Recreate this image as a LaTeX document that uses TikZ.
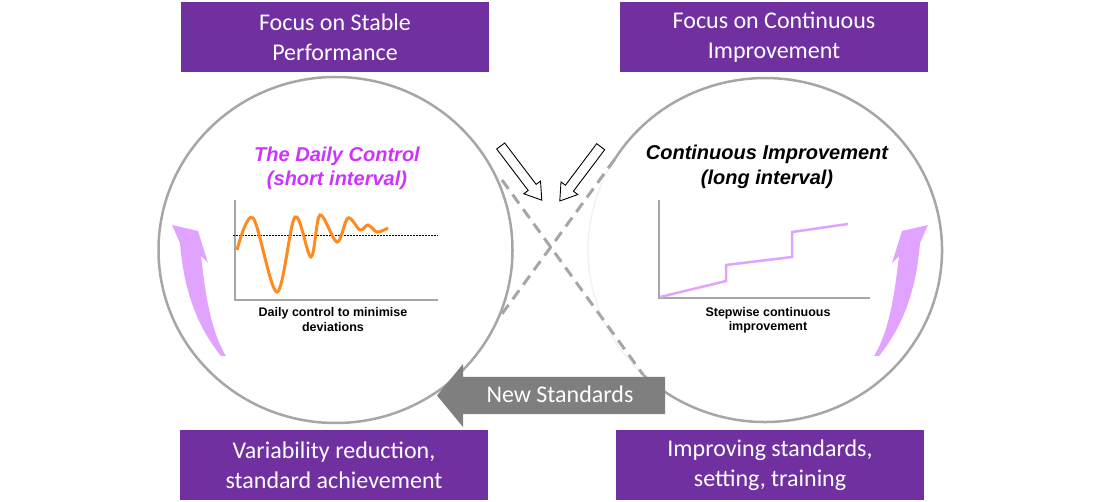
\documentclass[tikz,border=0pt]{standalone}
\usepackage{fontspec}
\setmainfont{Carlito}
\newfontfamily\arialf{Liberation Sans}
\definecolor{purp}{HTML}{7030A0}
\definecolor{circgray}{HTML}{A6A6A6}
\definecolor{arrgray}{HTML}{7F7F7F}
\definecolor{pinkarr}{HTML}{E0A3FF}
\definecolor{vio}{HTML}{CC33FF}
\definecolor{orng}{HTML}{FF8A1E}
\definecolor{faint}{HTML}{F2F2F2}
\begin{document}
\begin{tikzpicture}[x=1pt,y=-1pt,
  pbox/.style={rectangle, fill=purp, text=white, minimum width=308pt, minimum height=70pt, inner sep=0pt, align=center, font=\fontsize{24}{30}\selectfont},
  circ/.style={draw=circgray, line width=2.5pt},
  xdash/.style={draw=circgray, line width=3pt, dash pattern=on 11pt off 7pt},
  hollow/.style={draw=black, fill=white, line width=0.9pt, line join=miter},
  pinkshape/.style={fill=pinkarr},
  axisline/.style={draw=circgray, line width=1.5pt},
  ttl/.style={font=\arialf\bfseries\itshape\fontsize{20}{24}\selectfont, inner sep=0pt, anchor=base},
  captxt/.style={font=\arialf\bfseries\fontsize{12.5}{15}\selectfont, inner sep=0pt, anchor=base},
]
\useasboundingbox (0,0) rectangle (1100,502);

% circles
\draw[circ] (335.5,250) ellipse [x radius=177, y radius=173];
\draw[draw=faint, line width=1.5pt] (643.2,374.8) arc[start angle=133.5, end angle=211.8, x radius=177, y radius=172];
\draw[circ] (614.6,159.4) arc[start angle=-148.2, end angle=133.5, x radius=177, y radius=172];

% dashed cross
\draw[xdash] (502,180) -- (643.2,374.8);
\draw[xdash] (614.6,159.4) -- (499,318);

% hollow arrows
\begin{scope}[shift={(500.7,146)}, rotate=-52.8]
\draw[hollow] (0,-5) -- (52,-5) -- (52,-10.5) -- (68,0) -- (52,10.5) -- (52,5) -- (0,5) -- cycle;
\end{scope}
\begin{scope}[shift={(600.7,146.7)}, rotate=-127]
\draw[hollow] (0,-5) -- (52,-5) -- (52,-10.5) -- (68,0) -- (52,10.5) -- (52,5) -- (0,5) -- cycle;
\end{scope}

% gray arrow
\fill[arrgray] (665,377) -- (463,377) -- (463,364) -- (437,395.5) -- (463,427) -- (463,414) -- (665,414) -- cycle;
\node[font=\fontsize{24}{30}\selectfont, text=white, anchor=base, inner sep=0pt] (ns) at (560,402) {New Standards};

% left chart
\draw[axisline] (235,200) -- (235,300) -- (438,300);
\draw[black, line width=0.8pt, dash pattern=on 1.5pt off 1.5pt] (233,235) -- (438,235);
\draw[orng, line width=3pt] plot[smooth, tension=0.55] coordinates {(237,250) (253,218) (277,292) (295,217) (311,257) (320,215) (337,242) (348,218) (360,230) (368,225) (377,232) (388,228)};

% right chart
\draw[axisline] (659,200) -- (659,298) -- (870,298);
\draw[pinkarr, line width=2.5pt] (660,297) -- (726,281) -- (726,265) -- (792,257) -- (792,232) -- (848,224);

% pink curved arrows
\fill[pinkshape] (172,225) -- (198,231) -- (208,263) -- (201,256) .. controls (205,290) and (210,330) .. (226,356) -- (221,356) .. controls (200,330) and (184,295) .. (180,243) -- cycle;
\fill[pinkshape] (928,225) -- (902,231) -- (892,263) -- (899,256) .. controls (895,290) and (890,330) .. (874,356) -- (879,356) .. controls (900,330) and (916,295) .. (920,243) -- cycle;

% titles
\node[ttl, text=vio] (dc1) at (337,162) {The Daily Control};
\node[ttl, text=vio] (dc2) at (337,186) {(short interval)};
\node[ttl] (ci1) at (767,160) {Continuous Improvement};
\node[ttl] (ci2) at (767,185) {(long interval)};

% captions
\node[captxt] (cl1) at (333,317) {Daily control to minimise};
\node[captxt] (cl2) at (333,332) {deviations};
\node[captxt] (cr1) at (768,317) {Stepwise continuous};
\node[captxt] (cr2) at (768,331) {improvement};

% purple boxes
\node[pbox] (tl) at (335,37.5) {Focus on Stable\\Performance};
\node[pbox] (tr) at (774,37.5) {Focus on Continuous\\Improvement};
\node[pbox] (bl) at (334,465) {Variability reduction,\\standard achievement};
\node[pbox] (br) at (770,465) {Improving standards,\\setting, training};
\end{tikzpicture}
\end{document}
